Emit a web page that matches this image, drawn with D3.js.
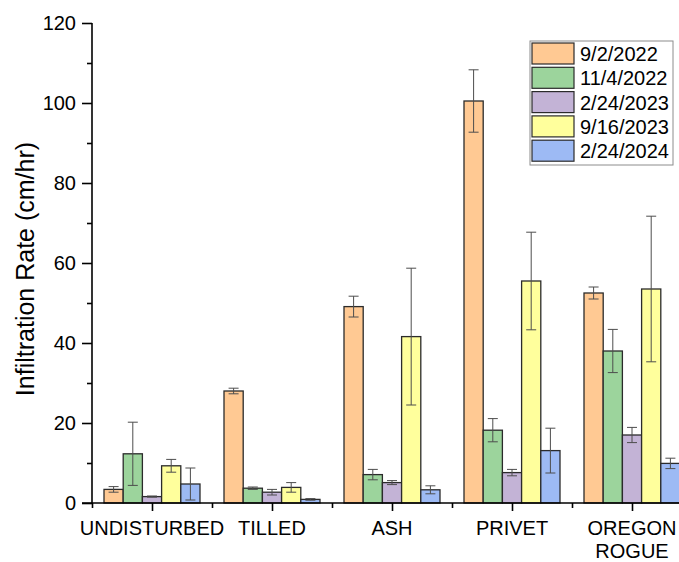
<!DOCTYPE html>
<html>
<head>
<meta charset="utf-8">
<script src="https://cdn.jsdelivr.net/npm/d3@7"></script>
<style>
  html, body { margin: 0; padding: 0; background: #fff; }
  svg { display: block; font-family: Arial, "Liberation Sans", sans-serif; }
</style>
</head>
<body>
<svg id="chart" width="679" height="562"></svg>
<script>
// Sites along the x axis
const categories = ["UNDISTURBED", "TILLED", "ASH", "PRIVET", "OREGON ROGUE"];
// Sampling dates (one bar series each)
const seriesNames = ["9/2/2022", "11/4/2022", "2/24/2023", "9/16/2023", "2/24/2024"];
const seriesColors = ["#FFC993", "#9CD49C", "#C3B3D6", "#FFFF9C", "#9DBAF4"];

// Mean infiltration rate (cm/hr) per series, ordered by site
const rate_2022_09_02 = [3.4, 28.0, 49.1, 100.5, 52.5];
const rate_2022_11_04 = [12.3, 3.7, 7.1, 18.2, 38.0];
const rate_2023_02_24 = [1.6, 2.7, 5.1, 7.6, 17.0];
const rate_2023_09_16 = [9.3, 3.9, 41.6, 55.5, 53.5];
const rate_2024_02_24 = [4.75, 0.9, 3.3, 13.1, 9.9];

// Standard error (cm/hr) per series, ordered by site
const err_2022_09_02 = [0.7, 0.7, 2.6, 7.8, 1.5];
const err_2022_11_04 = [7.9, 0.3, 1.3, 2.9, 5.4];
const err_2023_02_24 = [0.15, 0.7, 0.5, 0.8, 1.9];
const err_2023_09_16 = [1.6, 1.2, 17.1, 12.2, 18.2];
const err_2024_02_24 = [4.0, 0.2, 1.0, 5.6, 1.3];

const yTicks = [0, 20, 40, 60, 80, 100, 120];
const yMinorTicks = [10, 30, 50, 70, 90, 110];

const values = [rate_2022_09_02, rate_2022_11_04, rate_2023_02_24, rate_2023_09_16, rate_2024_02_24];
const errors = [err_2022_09_02, err_2022_11_04, err_2023_02_24, err_2023_09_16, err_2024_02_24];

const bars = [];
seriesNames.forEach((name, s) => {
  categories.forEach((cat, c) => {
    bars.push({ s, c, v: values[s][c], e: errors[s][c] });
  });
});

const svg = d3.select("#chart");

// Categories sit at 1..5 on a continuous axis so minor ticks fall between them
const x = d3.scaleLinear().domain([0.5, 5.5]).range([92, 692]);
const y = d3.scaleLinear().domain([0, 120]).range([503, 23]);
const barW = 0.16; // in category units
const xBar = d => x(d.c + 1 + (d.s - 2) * barW - barW / 2);

// Bars
svg.append("g").selectAll("rect").data(bars).join("rect")
  .attr("x", xBar)
  .attr("y", d => y(d.v))
  .attr("width", x(barW) - x(0))
  .attr("height", d => y(0) - y(d.v))
  .attr("fill", d => seriesColors[d.s])
  .attr("stroke", "#2b2b2b")
  .attr("stroke-width", 1.3);

// Error bars
const eg = svg.append("g").attr("stroke", "#4d4d4d").attr("stroke-width", 1).attr("fill", "none");
const cx = d => x(d.c + 1 + (d.s - 2) * barW);
eg.selectAll("path").data(bars).join("path")
  .attr("d", d => {
    const xc = cx(d), y1 = y(d.v + d.e), y0 = y(Math.max(d.v - d.e, 0));
    return `M${xc - 5},${y1}H${xc + 5}M${xc},${y1}V${y0}M${xc - 5},${y0}H${xc + 5}`;
  });

// Y axis
const yAxis = svg.append("g").attr("transform", `translate(${x(0.5)},0)`)
  .call(d3.axisLeft(y).tickValues(yTicks).tickSize(10).tickPadding(6).tickFormat(d3.format("d")));
yAxis.select(".domain").attr("stroke", "#000").attr("stroke-width", 1.6).attr("d", `M0,${y(120)}V${y(0)}`);
yAxis.selectAll(".tick line").attr("stroke", "#000").attr("stroke-width", 1.6);
yAxis.selectAll(".tick text").attr("font-size", 20).attr("fill", "#000")
  .attr("font-family", "Arial, 'Liberation Sans', sans-serif");
svg.append("g").attr("transform", `translate(${x(0.5)},0)`)
  .call(d3.axisLeft(y).tickValues(yMinorTicks).tickSize(5).tickFormat(""))
  .call(g => g.select(".domain").remove())
  .selectAll(".tick line").attr("stroke", "#000").attr("stroke-width", 1.6);

// X axis
const xAxis = svg.append("g").attr("transform", `translate(0,${y(0)})`)
  .call(d3.axisBottom(x).tickValues([1, 2, 3, 4, 5]).tickSize(8).tickFormat(""));
xAxis.select(".domain").attr("stroke", "#000").attr("stroke-width", 1.6).attr("d", `M${x(0.5) - 10},0H${x(5.5)}`);
xAxis.selectAll(".tick line").attr("stroke", "#000").attr("stroke-width", 1.6);
svg.append("g").attr("transform", `translate(0,${y(0)})`)
  .call(d3.axisBottom(x).tickValues([0.5, 1.5, 2.5, 3.5, 4.5, 5.5]).tickSize(5).tickFormat(""))
  .call(g => g.select(".domain").remove())
  .selectAll(".tick line").attr("stroke", "#000").attr("stroke-width", 1.6);

// Category labels (multi-word names wrap onto two lines)
const catLabels = svg.append("g").attr("font-size", 20).attr("text-anchor", "middle").attr("fill", "#000");
categories.forEach((cat, i) => {
  const lines = cat.includes(" ") && cat.length > 11 ? cat.split(" ") : [cat];
  const t = catLabels.append("text").attr("x", x(i + 1)).attr("y", 535);
  lines.forEach((ln, k) => t.append("tspan").attr("x", x(i + 1)).attr("dy", k === 0 ? 0 : 23).text(ln));
});

// Y axis title
svg.append("text")
  .attr("transform", `translate(34,${(y(0) + y(120)) / 2 + 6}) rotate(-90)`)
  .attr("text-anchor", "middle")
  .attr("font-size", 25)
  .attr("fill", "#000")
  .text("Infiltration Rate (cm/hr)");

// Legend
const lg = svg.append("g").attr("transform", "translate(530,41)");
lg.append("rect").attr("width", 143).attr("height", 124)
  .attr("fill", "#fff").attr("stroke", "#8c8c8c").attr("stroke-width", 1);
seriesNames.forEach((name, i) => {
  const row = lg.append("g").attr("transform", `translate(2,${2 + i * 24.3})`);
  row.append("rect").attr("width", 42).attr("height", 21)
    .attr("fill", seriesColors[i]).attr("stroke", "#2b2b2b").attr("stroke-width", 1.2);
  row.append("text").attr("x", 48).attr("y", 18).attr("font-size", 20).attr("fill", "#000").text(name);
});
</script>
</body>
</html>
